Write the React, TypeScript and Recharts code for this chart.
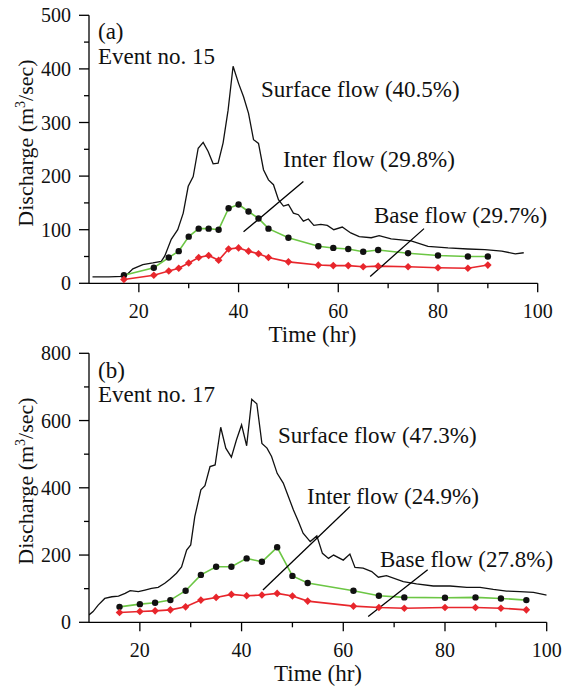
import { LineChart, Line, XAxis, YAxis, ReferenceLine } from 'recharts'

// ---- Event no. 15 (a) ----
const surfaceTimeA = [10.7, 12, 14, 16.7, 17.5, 18.8, 20.8, 22.8, 24.5, 25.2, 26.5, 27.8, 28.9, 29.9, 30.9, 31.9, 32.9, 33.9, 34.9, 35.9, 36.9, 37.9, 38.9, 40, 41, 42, 43, 44, 45, 46, 47, 48, 49, 50, 51, 52, 53, 54, 55.1, 56.5, 57.8, 59.1, 60.8, 62.5, 64.2, 66.6, 68.2, 70.6, 74.6, 78, 82, 86, 89.4, 92.8, 95.5, 97.2]
const surfaceA = [12, 12, 12, 13, 15, 27, 35, 38, 41, 51, 82, 100, 131, 181, 199, 252, 263, 246, 223, 224, 262, 323, 405, 373, 348, 317, 268, 261, 212, 193, 184, 156, 144, 147, 131, 128, 116, 120, 108, 110, 108, 100, 105, 94, 87, 85, 89, 83, 79, 69, 66, 64, 63, 60, 55, 57]
const sampleTimeA = [17, 23, 26, 28, 30, 32, 34, 36, 38, 40, 42, 44, 46, 50, 56, 59, 62, 65, 68, 74, 80, 86, 90]
const interA = [15, 29, 48, 60, 87, 102, 102, 100, 140, 147, 134, 121, 102, 85, 69, 66, 64, 59, 62, 56, 52, 50, 50]
const baseA = [7, 15, 23, 28, 38, 48, 52, 43, 64, 66, 60, 55, 48, 40, 34, 33, 33, 31, 32, 31, 29, 28, 34]

// ---- Event no. 17 (b) ----
const surfaceTimeB = [10, 10.8, 11.8, 13.1, 14.5, 15.8, 17.1, 18.1, 19.7, 21, 22.3, 23.6, 24.9, 25.9, 27.2, 28.2, 29.2, 30, 30.8, 32, 32.8, 33.8, 34.8, 35.9, 36.9, 38, 39, 40, 41, 42, 43, 44, 45, 45.9, 47, 48.2, 49.2, 50.2, 51.2, 52.1, 53.5, 54.8, 55.9, 57.1, 58.1, 60, 61.3, 62.3, 63.9, 65.6, 66.9, 68.5, 71.8, 74.4, 77.7, 81, 84.3, 86.9, 89.5, 92.1, 94.7, 97.4, 100]
const surfaceB = [22, 32, 51, 71, 76, 78, 86, 94, 91, 96, 101, 104, 116, 128, 146, 165, 215, 230, 314, 394, 406, 463, 468, 580, 518, 491, 543, 587, 525, 663, 650, 532, 518, 493, 443, 414, 374, 334, 299, 265, 240, 257, 205, 190, 200, 185, 203, 163, 161, 151, 134, 139, 121, 114, 108, 108, 104, 104, 98, 93, 91, 89, 81]
const sampleTimeB = [16, 20, 23, 26, 29, 32, 35, 38, 41, 44, 47, 50, 53, 62, 67, 72, 80, 86, 91, 96]
const interB = [46, 54, 58, 66, 94, 141, 165, 165, 190, 180, 223, 138, 117, 94, 79, 74, 73, 74, 71, 66]
const baseB = [29, 32, 34, 37, 46, 66, 74, 83, 79, 81, 86, 78, 63, 48, 44, 42, 44, 44, 42, 37]

const xTicks = [20, 30, 40, 50, 60, 70, 80, 90, 100]
const yTicksA = [0, 50, 100, 150, 200, 250, 300, 350, 400, 450, 500]
const yTicksB = [0, 100, 200, 300, 400, 500, 600, 700, 800]

const zip = (ts: number[], qs: number[]) => ts.map((t, i) => ({ t, q: qs[i] }))

const FONT = '"Liberation Serif", "Times New Roman", serif'
const GREEN = '#6cc644'
const RED = '#e8262c'

function XTick(props: any) {
  const { x, y, payload } = props
  const major = payload.value % 20 === 0
  return (
    <g>
      <line x1={x} x2={x} y1={y} y2={y + (major ? 9 : 5)} stroke="#000" strokeWidth={1.3} />
      {major && (
        <text x={x} y={y + 34.5} textAnchor="middle" fontFamily={FONT} fontSize={20} fill="#111">
          {payload.value}
        </text>
      )}
    </g>
  )
}

const makeYTick = (step: number) => (props: any) => {
  const { x, y, payload } = props
  const major = payload.value % step === 0
  return (
    <g>
      <line x1={x - (major ? 10 : 5)} x2={x} y1={y} y2={y} stroke="#000" strokeWidth={1.3} />
      {major && (
        <text x={x - 18} y={y} dy={7} textAnchor="end" fontFamily={FONT} fontSize={20} fill="#111">
          {payload.value}
        </text>
      )}
    </g>
  )
}

const Diamond = (props: any) => {
  const { cx, cy, index } = props
  const s = 3.8
  return <polygon key={index} points={`${cx},${cy - s} ${cx + s},${cy} ${cx},${cy + s} ${cx - s},${cy}`} fill={RED} />
}

type PanelProps = {
  surface: { t: number; q: number }[]
  inter: { t: number; q: number }[]
  base: { t: number; q: number }[]
  yMax: number
  yTicks: number[]
  majorStep: number
  top: number
  right: number
  xHeight: number
  interPointer: { x: number; y: number }[]
  basePointer: { x: number; y: number }[]
}

function Panel(p: PanelProps) {
  return (
    <div style={{ position: 'absolute', left: 0, top: p.top }}>
      <LineChart width={563} height={340} margin={{ top: 15.3, right: p.right, bottom: 0, left: 0 }}>
        <XAxis
          dataKey="t"
          type="number"
          domain={[10, 100]}
          ticks={xTicks}
          interval={0}
          allowDataOverflow
          height={p.xHeight}
          tickSize={0}
          tickMargin={0}
          tickLine={false}
          axisLine={{ stroke: '#000', strokeWidth: 1.3 }}
          tick={<XTick />}
        />
        <YAxis
          type="number"
          domain={[0, p.yMax]}
          ticks={p.yTicks}
          interval={0}
          width={89}
          tickSize={0}
          tickMargin={0}
          tickLine={false}
          axisLine={{ stroke: '#000', strokeWidth: 1.3 }}
          tick={makeYTick(p.majorStep)}
        />
        <Line data={p.surface} dataKey="q" type="linear" stroke="#111" strokeWidth={1.3} dot={false} isAnimationActive={false} />
        <Line data={p.inter} dataKey="q" type="linear" stroke={GREEN} strokeWidth={1.6} dot={{ r: 3.2, fill: '#111', stroke: '#111', strokeWidth: 0 }} isAnimationActive={false} />
        <Line data={p.base} dataKey="q" type="linear" stroke={RED} strokeWidth={1.6} dot={Diamond} isAnimationActive={false} />
        <ReferenceLine segment={p.interPointer} stroke="#000" strokeWidth={1.3} ifOverflow="visible" />
        <ReferenceLine segment={p.basePointer} stroke="#000" strokeWidth={1.3} ifOverflow="visible" />
      </LineChart>
    </div>
  )
}

function YTitle({ cx, cy }: { cx: number; cy: number }) {
  return (
    <text x={cx} y={cy} transform={`rotate(-90, ${cx}, ${cy})`} textAnchor="middle" fontFamily={FONT} fontSize={22} fill="#111">
      Discharge (m<tspan dy={-8} fontSize={14}>3</tspan><tspan dy={8}>/sec)</tspan>
    </text>
  )
}

export default function App() {
  const t = { fontFamily: FONT, fontSize: 23, fill: '#111' }
  return (
    <div style={{ position: 'absolute', left: 0, top: 0, width: 563, height: 687 }}>
      <Panel
        surface={zip(surfaceTimeA, surfaceA)}
        inter={zip(sampleTimeA, interA)}
        base={zip(sampleTimeA, baseA)}
        yMax={500}
        yTicks={yTicksA}
        majorStep={100}
        top={0}
        right={25.3}
        xHeight={56.7}
        interPointer={[{ x: 41, y: 96 }, { x: 53, y: 190 }]}
        basePointer={[{ x: 66.4, y: 12.5 }, { x: 77.2, y: 102 }]}
      />
      <Panel
        surface={zip(surfaceTimeB, surfaceB)}
        inter={zip(sampleTimeB, interB)}
        base={zip(sampleTimeB, baseB)}
        yMax={800}
        yTicks={yTicksB}
        majorStep={200}
        top={338}
        right={16.3}
        xHeight={55.7}
        interPointer={[{ x: 44.2, y: 96 }, { x: 61.3, y: 344 }]}
        basePointer={[{ x: 64.9, y: 17 }, { x: 76.6, y: 156 }]}
      />
      <svg width={563} height={687} style={{ position: 'absolute', left: 0, top: 0, pointerEvents: 'none' }}>
        <text x={98} y={39} {...t}>(a)</text>
        <text x={98} y={64} {...t}>Event no. 15</text>
        <text x={261} y={97} {...t}>Surface flow (40.5%)</text>
        <text x={283} y={167} {...t}>Inter flow (29.8%)</text>
        <text x={374} y={223} {...t}>Base flow (29.7%)</text>
        <text x={312.5} y={342} textAnchor="middle" {...t}>Time (hr)</text>
        <YTitle cx={33} cy={143} />
        <text x={98} y={378} {...t}>(b)</text>
        <text x={98} y={402} {...t}>Event no. 17</text>
        <text x={278} y={443} {...t}>Surface flow (47.3%)</text>
        <text x={307} y={504} {...t}>Inter flow (24.9%)</text>
        <text x={380} y={567} {...t}>Base flow (27.8%)</text>
        <text x={318} y={681} textAnchor="middle" {...t}>Time (hr)</text>
        <YTitle cx={33} cy={481} />
      </svg>
    </div>
  )
}
